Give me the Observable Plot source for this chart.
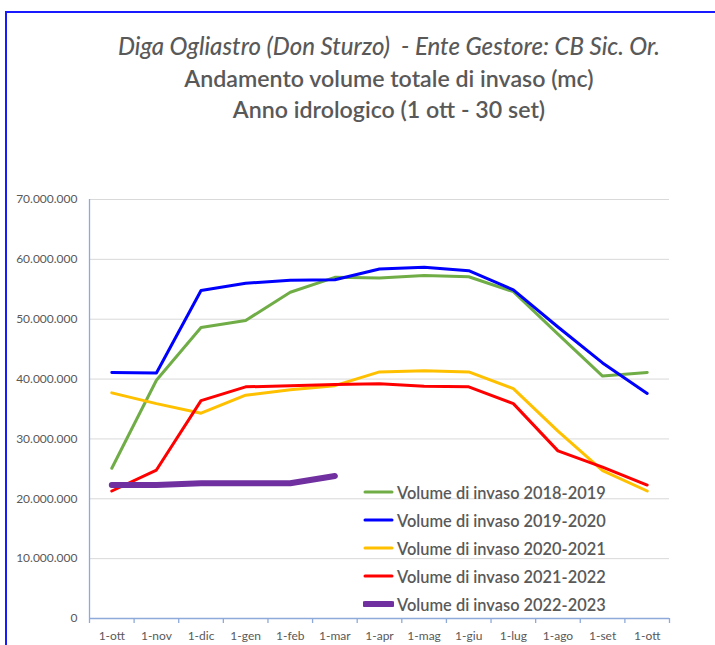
<!DOCTYPE html>
<html>
<head>
<meta charset="utf-8">
<script src="https://cdn.jsdelivr.net/npm/d3@7"></script>
<script src="https://cdn.jsdelivr.net/npm/@observablehq/plot@0.6"></script>
<style>
  html, body { margin: 0; padding: 0; background: #fff; }
  body { width: 715px; height: 645px; overflow: hidden; position: relative; font-family: Lato, "Open Sans", sans-serif; }
  #frame { position: absolute; left: 5px; top: 11px; width: 760px; height: 700px; border-left: 2px solid #1a1aff; border-top: 2px solid #1a1aff; box-sizing: border-box; }
  #title { position: absolute; left: 0; top: 0; width: 715px; height: 180px; color: #595959; }
  #title div { position: absolute; left: 0; width: 778px; text-align: center; white-space: nowrap; }
  #t1 { top: 31px; font-size: 24px; font-style: italic; font-weight: 500; }
  #t2 { top: 64px; font-size: 23.2px; font-weight: 600; }
  #t3 { top: 95px; font-size: 23.2px; font-weight: 600; }
  #chart { position: absolute; left: 0; top: 180px; }
  #legend { position: absolute; left: 363px; top: 478px; color: #595959; font-size: 16.4px; font-weight: 600; }
  .item { height: 28px; display: flex; align-items: center; white-space: nowrap; }
  .item svg { margin-right: 3px; }
</style>
</head>
<body>
<div id="frame"></div>
<div id="title">
  <div id="t1">Diga Ogliastro (Don Sturzo)&nbsp; - Ente Gestore: CB Sic. Or.</div>
  <div id="t2">Andamento volume totale di invaso (mc)</div>
  <div id="t3">Anno idrologico (1 ott - 30 set)</div>
</div>
<div id="chart"></div>
<div id="legend"></div>
<script>
const months = ["1-ott","1-nov","1-dic","1-gen","1-feb","1-mar","1-apr","1-mag","1-giu","1-lug","1-ago","1-set","1-ott"];
const seriesNames = ["Volume di invaso 2018-2019","Volume di invaso 2019-2020","Volume di invaso 2020-2021","Volume di invaso 2021-2022","Volume di invaso 2022-2023"];
const seriesColors = ["#70ad47","#0000ff","#ffc000","#ff0000","#7030a0"];
const seriesWidths = [3, 3, 3, 3, 6];
const v2018 = [25100000,39800000,48600000,49800000,54500000,57000000,56900000,57300000,57100000,54600000,47500000,40500000,41100000];
const v2019 = [41100000,41000000,54800000,56000000,56500000,56600000,58400000,58700000,58100000,54900000,48700000,42700000,37600000];
const v2020 = [37700000,35900000,34300000,37300000,38200000,38900000,41200000,41400000,41200000,38400000,31300000,24700000,21300000];
const v2021 = [21300000,24800000,36400000,38700000,38900000,39100000,39200000,38800000,38700000,35900000,28000000,25300000,22300000];
const v2022 = [22300000,22300000,22600000,22600000,22600000,23800000];
const yTicks = [0,10000000,20000000,30000000,40000000,50000000,60000000,70000000];

const allSeries = [v2018, v2019, v2020, v2021, v2022];
const data = allSeries.flatMap((vals, s) => vals.map((v, i) => ({s, i, v})));

const itFmt = d3.formatLocale({decimal: ",", thousands: ".", grouping: [3], currency: ["€", ""]}).format(",d");
const axisColor = "#8eaadb";
const textColor = "#595959";

const plot = Plot.plot({
  width: 715,
  height: 465,
  marginTop: 19,
  marginBottom: 27,
  marginLeft: 89,
  marginRight: 46,
  style: {fontFamily: "Lato, 'Open Sans', sans-serif", fontSize: "12px", color: textColor, background: "transparent"},
  x: {domain: [-0.5, months.length - 0.5], axis: null},
  y: {domain: [0, 70000000], axis: null},
  marks: [
    Plot.gridY(yTicks, {stroke: "#d9d9d9", strokeOpacity: 1, strokeWidth: 1}),
    Plot.axisY(yTicks, {tickSize: 0, tickPadding: 12, tickFormat: itFmt, fill: textColor, label: null}),
    Plot.ruleX([-0.5], {stroke: axisColor, strokeWidth: 1.3}),
    Plot.ruleY([0], {stroke: axisColor, strokeWidth: 1.3}),
    Plot.axisX(d3.range(-0.5, months.length, 1), {tickSize: 5, stroke: axisColor, strokeWidth: 1.3, tickFormat: () => "", label: null}),
    Plot.axisX(d3.range(months.length), {tickSize: 0, tickPadding: 13, tickFormat: i => months[i], fill: textColor, label: null}),
    ...allSeries.map((vals, s) => Plot.line(data.filter(d => d.s === s), {
      x: "i", y: "v", stroke: seriesColors[s], strokeWidth: seriesWidths[s], strokeLinejoin: "round", strokeLinecap: "round"
    }))
  ]
});
document.getElementById("chart").appendChild(plot);

const legend = document.getElementById("legend");
seriesNames.forEach((name, s) => {
  const item = document.createElement("div");
  item.className = "item";
  item.innerHTML = `<svg width="31" height="10"><line x1="2" x2="29" y1="5" y2="5" stroke="${seriesColors[s]}" stroke-width="${seriesWidths[s]}" stroke-linecap="round"/></svg><span>${name}</span>`;
  legend.appendChild(item);
});
</script>
</body>
</html>
